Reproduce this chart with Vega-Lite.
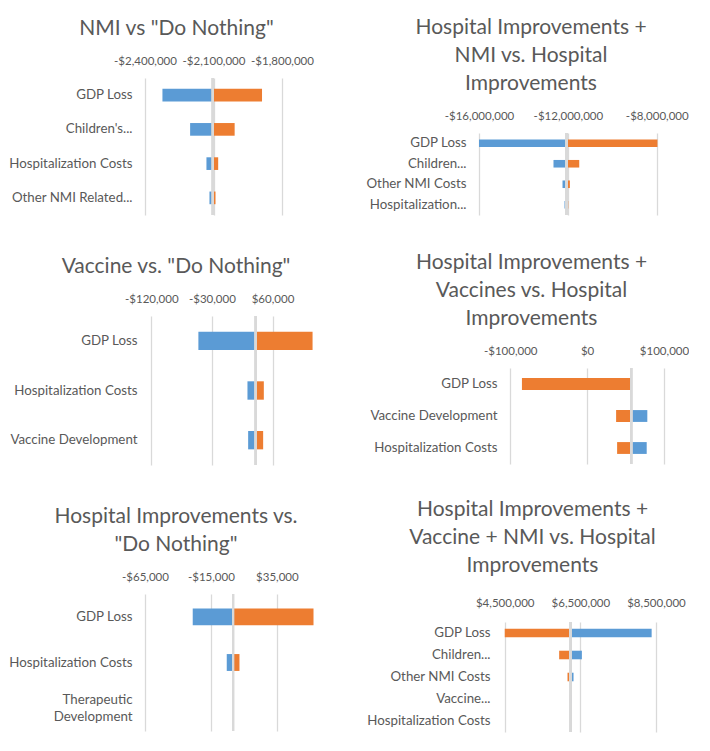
{
  "$schema": "https://vega.github.io/schema/vega-lite/v6.json",
  "padding": {"left": 8, "top": 17, "right": 0, "bottom": 0},
  "datasets": {
    "nmi": [
      {"factor": "GDP Loss", "series": "Low", "value": -2323600},
      {"factor": "GDP Loss", "series": "High", "value": -1887500},
      {"factor": "Children's...", "series": "Low", "value": -2202400},
      {"factor": "Children's...", "series": "High", "value": -2007400},
      {"factor": "Hospitalization Costs", "series": "Low", "value": -2130900},
      {"factor": "Hospitalization Costs", "series": "High", "value": -2079500},
      {"factor": "Other NMI Related...", "series": "Low", "value": -2117700},
      {"factor": "Other NMI Related...", "series": "High", "value": -2091300}
    ],
    "hosp_nmi": [
      {"factor": "GDP Loss", "series": "Low", "value": -16000000},
      {"factor": "GDP Loss", "series": "High", "value": -7970000},
      {"factor": "Children...", "series": "Low", "value": -12648000},
      {"factor": "Children...", "series": "High", "value": -11489000},
      {"factor": "Other NMI Costs", "series": "Low", "value": -12242000},
      {"factor": "Other NMI Costs", "series": "High", "value": -11910000},
      {"factor": "Hospitalization...", "series": "Low", "value": -12152000},
      {"factor": "Hospitalization...", "series": "High", "value": -11985000}
    ],
    "vaccine": [
      {"factor": "GDP Loss", "series": "Low", "value": -50100},
      {"factor": "GDP Loss", "series": "High", "value": 119500},
      {"factor": "Hospitalization Costs", "series": "Low", "value": 22800},
      {"factor": "Hospitalization Costs", "series": "High", "value": 47100},
      {"factor": "Vaccine Development", "series": "Low", "value": 23800},
      {"factor": "Vaccine Development", "series": "High", "value": 46100}
    ],
    "hosp_vaccine": [
      {"factor": "GDP Loss", "series": "High", "value": -84800},
      {"factor": "Vaccine Development", "series": "Low", "value": 78300},
      {"factor": "Vaccine Development", "series": "High", "value": 37700},
      {"factor": "Hospitalization Costs", "series": "Low", "value": 77500},
      {"factor": "Hospitalization Costs", "series": "High", "value": 39000}
    ],
    "hosp": [
      {"factor": "GDP Loss", "series": "Low", "value": -28800},
      {"factor": "GDP Loss", "series": "High", "value": 62800},
      {"factor": "Hospitalization Costs", "series": "Low", "value": -3000},
      {"factor": "Hospitalization Costs", "series": "High", "value": 6650},
      {"factor": "Therapeutic Development", "series": "Low", "value": 1600},
      {"factor": "Therapeutic Development", "series": "High", "value": 2000}
    ],
    "all": [
      {"factor": "GDP Loss", "series": "Low", "value": 8385000},
      {"factor": "GDP Loss", "series": "High", "value": 4500000},
      {"factor": "Children...", "series": "Low", "value": 6540000},
      {"factor": "Children...", "series": "High", "value": 5939000},
      {"factor": "Other NMI Costs", "series": "Low", "value": 6319000},
      {"factor": "Other NMI Costs", "series": "High", "value": 6160000},
      {"factor": "Vaccine...", "series": "Low", "value": 6275000},
      {"factor": "Vaccine...", "series": "High", "value": 6204000},
      {"factor": "Hospitalization Costs", "series": "Low", "value": 6255000},
      {"factor": "Hospitalization Costs", "series": "High", "value": 6225000}
    ]
  },
  "spacing": 42,
  "hconcat": [
    {
      "bounds": "flush",
      "spacing": 0,
      "vconcat": [
        {
          "width": 137,
          "height": 137,
          "title": {"text": "NMI vs \"Do Nothing\"", "dx": -37},
          "data": {"name": "nmi"},
          "layer": [
            {
              "mark": "bar",
              "encoding": {
                "y": {"field": "factor", "type": "nominal", "sort": null, "scale": {"paddingInner": 0.63, "paddingOuter": 0.315}, "axis": {"labelPadding": 13}},
                "x": {"field": "value", "type": "quantitative", "scale": {"domain": [-2400000, -1800000], "nice": false, "zero": false},
                      "axis": {"orient": "top", "values": [-2400000, -2100000, -1800000]}},
                "x2": {"datum": -2103000},
                "color": {"field": "series", "type": "nominal", "scale": {"domain": ["Low", "High"], "range": ["#5B9BD5", "#ED7D31"]}, "legend": null}
              }
            },
            {"mark": {"type": "rule", "color": "#d9d9d9", "strokeWidth": 2}, "encoding": {"x": {"datum": -2103000}}}
          ]
        },
        {"width": 10, "height": 101, "data": {"values": []}, "mark": "point"},
        {
          "width": 178,
          "height": 149,
          "title": {"text": "Vaccine vs. \"Do Nothing\"", "dx": -58},
          "data": {"name": "vaccine"},
          "layer": [
            {
              "mark": "bar",
              "encoding": {
                "y": {"field": "factor", "type": "nominal", "sort": null, "scale": {"paddingInner": 0.63, "paddingOuter": 0.315}, "axis": {"labelPadding": 8}},
                "x": {"field": "value", "type": "quantitative", "scale": {"domain": [-129400, 135000], "nice": false, "zero": false},
                      "axis": {"orient": "top", "values": [-120000, -30000, 60000]}},
                "x2": {"datum": 35000},
                "color": {"field": "series", "type": "nominal", "scale": {"domain": ["Low", "High"], "range": ["#5B9BD5", "#ED7D31"]}, "legend": null}
              }
            },
            {"mark": {"type": "rule", "color": "#d9d9d9", "strokeWidth": 2}, "encoding": {"x": {"datum": 35000}}}
          ]
        },
        {"width": 10, "height": 129, "data": {"values": []}, "mark": "point"},
        {
          "width": 178,
          "height": 137,
          "title": {"text": ["Hospital Improvements vs.", "\"Do Nothing\""], "dx": -58},
          "data": {"name": "hosp"},
          "layer": [
            {
              "mark": "bar",
              "encoding": {
                "y": {"field": "factor", "type": "nominal", "sort": null, "scale": {"paddingInner": 0.63, "paddingOuter": 0.315},
                      "axis": {
                        "labelPadding": 13,
                        "labelLineHeight": 17,
                        "labelOffset": {"condition": {"test": "datum.value == 'Therapeutic Development'", "value": -8}, "value": 0},
                        "labelExpr": "datum.label == 'Therapeutic Development' ? ['Therapeutic', 'Development'] : datum.label"
                      }},
                "x": {"field": "value", "type": "quantitative", "scale": {"domain": [-65000, 70000], "nice": false, "zero": false},
                      "axis": {"orient": "top", "values": [-65000, -15000, 35000]}},
                "x2": {"datum": 1800},
                "color": {"field": "series", "type": "nominal", "scale": {"domain": ["Low", "High"], "range": ["#5B9BD5", "#ED7D31"]}, "legend": null}
              }
            },
            {"mark": {"type": "rule", "color": "#d9d9d9", "strokeWidth": 2}, "encoding": {"x": {"datum": 1800}}}
          ]
        }
      ]
    },
    {
      "bounds": "flush",
      "spacing": 0,
      "vconcat": [
        {"width": 10, "height": 55, "data": {"values": []}, "mark": "point"},
        {
          "width": 180,
          "height": 82,
          "title": {"text": ["Hospital Improvements +", "NMI vs. Hospital", "Improvements"], "dx": -38},
          "data": {"name": "hosp_nmi"},
          "layer": [
            {
              "mark": "bar",
              "encoding": {
                "y": {"field": "factor", "type": "nominal", "sort": null, "scale": {"paddingInner": 0.63, "paddingOuter": 0.315}, "axis": {"labelPadding": 13}},
                "x": {"field": "value", "type": "quantitative", "scale": {"domain": [-16000000, -7900000], "nice": false, "zero": false},
                      "axis": {"orient": "top", "values": [-16000000, -12000000, -8000000]}},
                "x2": {"datum": -12060000},
                "color": {"field": "series", "type": "nominal", "scale": {"domain": ["Low", "High"], "range": ["#5B9BD5", "#ED7D31"]}, "legend": null}
              }
            },
            {"mark": {"type": "rule", "color": "#d9d9d9", "strokeWidth": 2}, "encoding": {"x": {"datum": -12060000}}}
          ]
        },
        {"width": 10, "height": 153, "data": {"values": []}, "mark": "point"},
        {
          "width": 185,
          "height": 96,
          "title": {"text": ["Hospital Improvements +", "Vaccines vs. Hospital", "Improvements"], "dx": -40},
          "data": {"name": "hosp_vaccine"},
          "layer": [
            {
              "mark": "bar",
              "encoding": {
                "y": {"field": "factor", "type": "nominal", "sort": null, "scale": {"paddingInner": 0.63, "paddingOuter": 0.315}, "axis": {"labelPadding": -18}},
                "x": {"field": "value", "type": "quantitative", "scale": {"domain": [-140650, 100000], "nice": false, "zero": false},
                      "axis": {"orient": "top", "values": [-100000, 0, 100000]}},
                "x2": {"datum": 57500},
                "color": {"field": "series", "type": "nominal", "scale": {"domain": ["Low", "High"], "range": ["#5B9BD5", "#ED7D31"]}, "legend": null}
              }
            },
            {"mark": {"type": "rule", "color": "#d9d9d9", "strokeWidth": 2}, "encoding": {"x": {"datum": 57500}}}
          ]
        },
        {"width": 10, "height": 158, "data": {"values": []}, "mark": "point"},
        {
          "width": 177,
          "height": 110,
          "title": {"text": ["Hospital Improvements +", "Vaccine + NMI vs. Hospital", "Improvements"], "dx": -35, "offset": 21},
          "data": {"name": "all"},
          "layer": [
            {
              "mark": "bar",
              "encoding": {
                "y": {"field": "factor", "type": "nominal", "sort": null, "scale": {"paddingInner": 0.61, "paddingOuter": 0.305}, "axis": {"labelPadding": -11}},
                "x": {"field": "value", "type": "quantitative", "scale": {"domain": [3819200, 8500000], "nice": false, "zero": false},
                      "axis": {"orient": "top", "values": [4500000, 6500000, 8500000], "labelPadding": 14}},
                "x2": {"datum": 6240000},
                "color": {"field": "series", "type": "nominal", "scale": {"domain": ["Low", "High"], "range": ["#5B9BD5", "#ED7D31"]}, "legend": null}
              }
            },
            {"mark": {"type": "rule", "color": "#d9d9d9", "strokeWidth": 2}, "encoding": {"x": {"datum": 6240000}}}
          ]
        }
      ]
    }
  ],
  "config": {
    "view": {"stroke": null},
    "font": "Lato",
    "axis": {
      "labelFont": "Lato",
      "labelColor": "#595959",
      "ticks": false,
      "tickSize": 0,
      "domain": false,
      "title": null,
      "labelLimit": 200
    },
    "axisX": {
      "grid": true,
      "gridColor": "#d9d9d9",
      "gridWidth": 1.3,
      "labelFontSize": 11.5,
      "labelPadding": 12,
      "labelFlush": false,
      "labelOverlap": false,
      "labelExpr": "(datum.value < 0 ? '-' : '') + '$' + format(abs(datum.value), ',')"
    },
    "axisY": {"grid": false, "labelFontSize": 13.3},
    "title": {
      "font": "Lato",
      "fontSize": 21,
      "fontWeight": "normal",
      "color": "#595959",
      "anchor": "middle",
      "frame": "group",
      "lineHeight": 28,
      "offset": 16
    }
  }
}
